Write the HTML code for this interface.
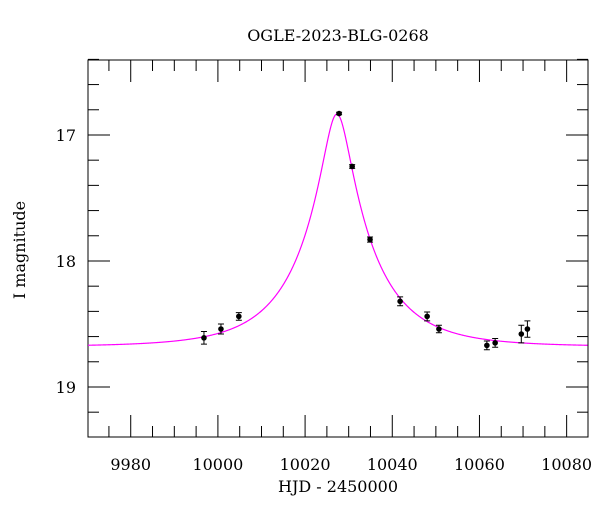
<!DOCTYPE html>
<html><head><meta charset="utf-8"><style>
body{margin:0;background:#fff}
svg text{font-family:"DejaVu Serif","Liberation Serif",serif;fill:#000}
</style></head><body>
<svg id="c" width="600" height="512" xmlns="http://www.w3.org/2000/svg"></svg>
<script>
const obsT=[9996.8,10000.7,10004.8,10027.8,10030.8,10034.9,10041.8,10048,10050.7,10061.7,10063.6,10069.6,10071];
const obsMag=[18.61,18.54,18.44,16.83,17.25,17.83,18.32,18.44,18.54,18.67,18.65,18.58,18.54];
const obsErr=[0.05,0.04,0.03,0.01,0.015,0.02,0.035,0.035,0.03,0.035,0.035,0.07,0.065];
const xTicks=[9980,10000,10020,10040,10060,10080];
const yTicks=[17,18,19];
const modelT0=[10027.3],modelU0=[0.185],modelTE=[16.5],modelBase=[18.68];
const L=88,R=588,T=60,B=437,x0=9970.2,x1=10084.9,y0=16.405,y1=19.397;
const X=v=>L+(v-x0)/(x1-x0)*(R-L), Y=v=>T+(v-y0)/(y1-y0)*(B-T);
const svg=document.getElementById('c'),NS='http://www.w3.org/2000/svg';
function mk(tag,at,txt){const e=document.createElementNS(NS,tag);for(const k in at)e.setAttribute(k,at[k]);if(txt!=null)e.textContent=txt;svg.appendChild(e);return e;}
let e=mk('rect',{x:L,y:T,width:R-L,height:B-T,fill:'none',stroke:'#000','stroke-width':1});


for(let v=9975;v<=10080;v+=5){const maj=v%20===0;const px=X(v);const len=maj?22:11;
 e=mk('line',{x1:px,x2:px,y1:B,y2:B-len,stroke:'#000'});
 
 
 e=mk('line',{x1:px,x2:px,y1:T,y2:T+len,stroke:'#000'});
 
 }
xTicks.forEach(v=>{e=mk('text',{x:X(v),y:B+33,'text-anchor':'middle','font-size':16},String(v));
 
 });
for(let i=0;i<=15;i++){const v=16.4+i*0.2;if(v>y1)break;const maj=Math.abs(v-Math.round(v))<1e-6;const py=Y(v);const len=maj?22:11;
 e=mk('line',{x1:L,x2:L+len,y1:py,y2:py,stroke:'#000'});
 
 
 e=mk('line',{x1:R,x2:R-len,y1:py,y2:py,stroke:'#000'});
 
 }
yTicks.forEach(v=>{e=mk('text',{x:L-12,y:Y(v)+6,'text-anchor':'end','font-size':16},String(v));
 
 });
let d='';
for(let t=x0;t<=x1;t+=0.1){const tau=(t-modelT0[0])/modelTE[0];const u=Math.sqrt(tau*tau+modelU0[0]*modelU0[0]);
 const A=(u*u+2)/(u*Math.sqrt(u*u+4));const m=modelBase[0]-2.5*Math.log10(A);
 d+=(d?'L':'M')+X(t).toFixed(2)+','+Y(m).toFixed(2);}
e=mk('path',{d:d,fill:'none',stroke:'#ff00ff','stroke-width':1.2});


obsT.forEach((t,i)=>{const px=X(t),py=Y(obsMag[i]),a=Y(obsMag[i]-obsErr[i]),b=Y(obsMag[i]+obsErr[i]);
 e=mk('path',{d:`M${px},${a}V${b}M${px-3},${a}H${px+3}M${px-3},${b}H${px+3}`,stroke:'#000','stroke-width':1,fill:'none'});
 
 
 e=mk('circle',{cx:px,cy:py,r:2.8,fill:'#000'});
 
 });
e=mk('text',{x:338,y:41,'text-anchor':'middle','font-size':16},'OGLE-2023-BLG-0268');


e=mk('text',{x:338,y:492,'text-anchor':'middle','font-size':16},'HJD - 2450000');


e=mk('text',{x:25,y:250,'text-anchor':'middle','font-size':16,transform:'rotate(-90 25 250)'},'I magnitude');


</script>
</body></html>
